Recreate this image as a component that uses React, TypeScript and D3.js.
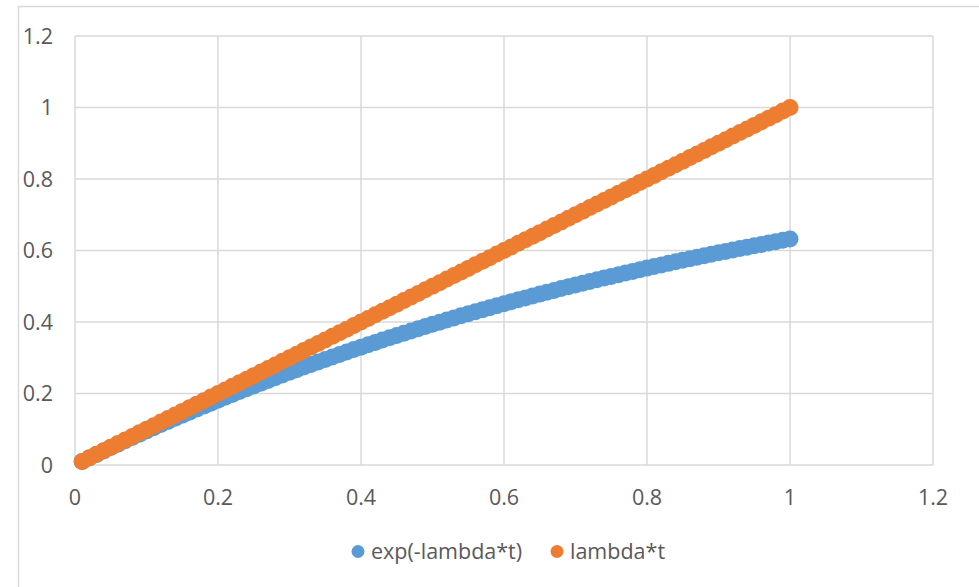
import React from "react";
import * as d3 from "d3";

const tValues = [
  0.01, 0.02, 0.03, 0.04, 0.05, 0.06, 0.07, 0.08, 0.09, 0.1,
  0.11, 0.12, 0.13, 0.14, 0.15, 0.16, 0.17, 0.18, 0.19, 0.2,
  0.21, 0.22, 0.23, 0.24, 0.25, 0.26, 0.27, 0.28, 0.29, 0.3,
  0.31, 0.32, 0.33, 0.34, 0.35, 0.36, 0.37, 0.38, 0.39, 0.4,
  0.41, 0.42, 0.43, 0.44, 0.45, 0.46, 0.47, 0.48, 0.49, 0.5,
  0.51, 0.52, 0.53, 0.54, 0.55, 0.56, 0.57, 0.58, 0.59, 0.6,
  0.61, 0.62, 0.63, 0.64, 0.65, 0.66, 0.67, 0.68, 0.69, 0.7,
  0.71, 0.72, 0.73, 0.74, 0.75, 0.76, 0.77, 0.78, 0.79, 0.8,
  0.81, 0.82, 0.83, 0.84, 0.85, 0.86, 0.87, 0.88, 0.89, 0.9,
  0.91, 0.92, 0.93, 0.94, 0.95, 0.96, 0.97, 0.98, 0.99, 1.0,
];

const expValues = [
  0.0100, 0.0198, 0.0296, 0.0392, 0.0488, 0.0582, 0.0676, 0.0769, 0.0861, 0.0952,
  0.1042, 0.1131, 0.1219, 0.1306, 0.1393, 0.1479, 0.1563, 0.1647, 0.1730, 0.1813,
  0.1894, 0.1975, 0.2055, 0.2134, 0.2212, 0.2289, 0.2366, 0.2442, 0.2517, 0.2592,
  0.2666, 0.2739, 0.2811, 0.2882, 0.2953, 0.3023, 0.3093, 0.3161, 0.3229, 0.3297,
  0.3363, 0.3430, 0.3495, 0.3560, 0.3624, 0.3687, 0.3750, 0.3812, 0.3874, 0.3935,
  0.3995, 0.4055, 0.4114, 0.4173, 0.4231, 0.4288, 0.4345, 0.4401, 0.4457, 0.4512,
  0.4566, 0.4621, 0.4674, 0.4727, 0.4780, 0.4831, 0.4883, 0.4934, 0.4984, 0.5034,
  0.5084, 0.5132, 0.5181, 0.5229, 0.5276, 0.5323, 0.5370, 0.5416, 0.5462, 0.5507,
  0.5551, 0.5596, 0.5640, 0.5683, 0.5726, 0.5768, 0.5810, 0.5852, 0.5893, 0.5934,
  0.5975, 0.6015, 0.6054, 0.6094, 0.6133, 0.6171, 0.6209, 0.6247, 0.6284, 0.6321,
];

const lambdaTValues = [
  0.01, 0.02, 0.03, 0.04, 0.05, 0.06, 0.07, 0.08, 0.09, 0.1,
  0.11, 0.12, 0.13, 0.14, 0.15, 0.16, 0.17, 0.18, 0.19, 0.2,
  0.21, 0.22, 0.23, 0.24, 0.25, 0.26, 0.27, 0.28, 0.29, 0.3,
  0.31, 0.32, 0.33, 0.34, 0.35, 0.36, 0.37, 0.38, 0.39, 0.4,
  0.41, 0.42, 0.43, 0.44, 0.45, 0.46, 0.47, 0.48, 0.49, 0.5,
  0.51, 0.52, 0.53, 0.54, 0.55, 0.56, 0.57, 0.58, 0.59, 0.6,
  0.61, 0.62, 0.63, 0.64, 0.65, 0.66, 0.67, 0.68, 0.69, 0.7,
  0.71, 0.72, 0.73, 0.74, 0.75, 0.76, 0.77, 0.78, 0.79, 0.8,
  0.81, 0.82, 0.83, 0.84, 0.85, 0.86, 0.87, 0.88, 0.89, 0.9,
  0.91, 0.92, 0.93, 0.94, 0.95, 0.96, 0.97, 0.98, 0.99, 1.0,
];

const xTicks = [0, 0.2, 0.4, 0.6, 0.8, 1, 1.2];
const yTicks = [0, 0.2, 0.4, 0.6, 0.8, 1, 1.2];
const seriesNames = ["exp(-lambda*t)", "lambda*t"];
const seriesColors = ["#5B9BD5", "#ED7D31"];

const W = 979;
const H = 587;
const left = 75;
const right = 933;
const top = 36;
const bottom = 465;
const FONT = "'Open Sans', sans-serif";
const FS = 21.5;
const TEXT = "#595959";
const GRID = "#D9D9D9";

export default function App() {
  const x = d3.scaleLinear().domain([0, 1.2]).range([left, right]);
  const y = d3.scaleLinear().domain([0, 1.2]).range([bottom, top]);
  const series = [
    tValues.map((t, i) => [t, expValues[i]]),
    tValues.map((t, i) => [t, lambdaTValues[i]]),
  ];
  return (
    <svg
      width={W}
      height={H}
      style={{ position: "absolute", left: 0, top: 0, background: "#fff" }}
    >
      <rect x={0} y={0} width={W} height={H} fill="#fff" />
      <rect x={18.5} y={6.5} width={1000} height={700} fill="none" stroke={GRID} strokeWidth={1.5} />
      {yTicks.map((v) => (
        <line key={"gy" + v} x1={left} x2={right} y1={y(v)} y2={y(v)} stroke={GRID} strokeWidth={1.5} />
      ))}
      {xTicks.map((v) => (
        <line key={"gx" + v} x1={x(v)} x2={x(v)} y1={top} y2={bottom} stroke={GRID} strokeWidth={1.5} />
      ))}
      {yTicks.map((v) => (
        <text
          key={"ty" + v}
          x={53}
          y={y(v)}
          dy="0.36em"
          textAnchor="end"
          fontFamily={FONT}
          fontSize={FS}
          fill={TEXT}
        >
          {String(v)}
        </text>
      ))}
      {xTicks.map((v) => (
        <text
          key={"tx" + v}
          x={x(v)}
          y={505}
          textAnchor="middle"
          fontFamily={FONT}
          fontSize={FS}
          fill={TEXT}
        >
          {String(v)}
        </text>
      ))}
      {series.map((pts, si) => (
        <g key={"s" + si}>
          {pts.map((p, i) => (
            <circle key={i} cx={x(p[0])} cy={y(p[1])} r={8.5} fill={seriesColors[si]} />
          ))}
        </g>
      ))}
      <circle cx={358} cy={551.5} r={6.5} fill={seriesColors[0]} />
      <text x={371} y={558.5} fontFamily={FONT} fontSize={FS} fill={TEXT}>
        {seriesNames[0]}
      </text>
      <circle cx={557} cy={551.5} r={6.5} fill={seriesColors[1]} />
      <text x={570} y={558.5} fontFamily={FONT} fontSize={FS} fill={TEXT}>
        {seriesNames[1]}
      </text>
    </svg>
  );
}
